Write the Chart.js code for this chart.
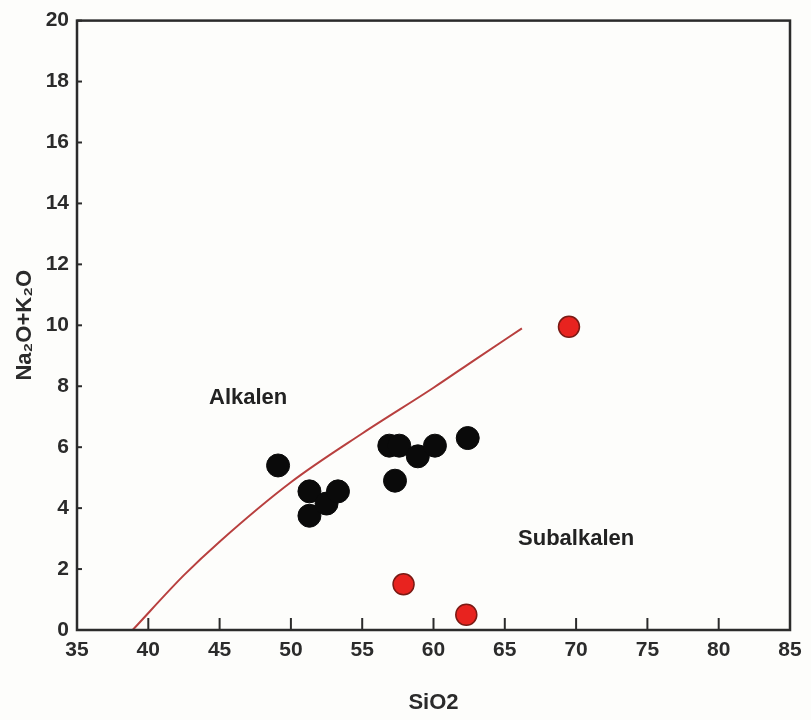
<!DOCTYPE html>
<html lang="en">
<head>
<meta charset="UTF-8">
<title>TAS SiO2 vs Na2O+K2O</title>
<script src="https://cdn.jsdelivr.net/npm/chart.js"></script>
<style>
  html, body { margin: 0; padding: 0; background: #fdfdfb; }
  #wrap { width: 811px; height: 720px; }
</style>
</head>
<body>
<div id="wrap"><canvas id="tasChart" width="811" height="720"></canvas></div>
<script>
// Alkaline / subalkaline dividing line (SiO2, Na2O+K2O)
const boundarySiO2 = [38.9, 42.5, 45.0, 50.0, 55.0, 60.0, 63.0, 66.2];
const boundaryAlk  = [0.0, 1.8, 2.9, 4.85, 6.45, 7.95, 8.9, 9.9];

// black samples
const blackSiO2 = [49.1, 51.3, 51.3, 52.5, 53.3, 56.9, 57.6, 58.9, 60.1, 62.4, 57.3];
const blackAlk  = [5.4, 4.55, 3.75, 4.15, 4.55, 6.05, 6.05, 5.7, 6.05, 6.3, 4.9];

// red samples
const redSiO2 = [57.9, 62.3, 69.5];
const redAlk  = [1.5, 0.5, 9.95];

const xTicks = [35, 40, 45, 50, 55, 60, 65, 70, 75, 80, 85];
const yTicks = [0, 2, 4, 6, 8, 10, 12, 14, 16, 18, 20];

const fieldLabels = [
  { text: 'Alkalen', x: 47.0, y: 7.6 },
  { text: 'Subalkalen', x: 70.0, y: 3.0 }
];

function toPoints(xs, ys) {
  return xs.map((x, i) => ({ x: x, y: ys[i] }));
}

const axisColor = '#2b2b2b';
const fontFam = 'Arial, "Liberation Sans", sans-serif';
const tickFont = { family: fontFam, size: 21, weight: 'bold' };
const titleFont = { family: fontFam, size: 22, weight: 'bold' };

// frame, inward ticks and field names
const framePlugin = {
  id: 'frame',
  afterDraw(chart) {
    const ctx = chart.ctx;
    const a = chart.chartArea;
    const xs = chart.scales.x, ys = chart.scales.y;
    ctx.save();
    ctx.strokeStyle = axisColor;
    ctx.lineWidth = 2.5;
    ctx.strokeRect(a.left, a.top, a.right - a.left, a.bottom - a.top);
    ctx.lineWidth = 2;
    xTicks.forEach(v => {
      const px = xs.getPixelForValue(v);
      ctx.beginPath();
      ctx.moveTo(px, a.bottom);
      ctx.lineTo(px, a.bottom - 12);
      ctx.stroke();
    });
    yTicks.forEach(v => {
      const py = ys.getPixelForValue(v);
      ctx.beginPath();
      ctx.moveTo(a.left, py);
      ctx.lineTo(a.left + 5, py);
      ctx.stroke();
    });
    ctx.fillStyle = '#222';
    ctx.font = 'bold 22px ' + fontFam;
    ctx.textAlign = 'center';
    ctx.textBaseline = 'middle';
    fieldLabels.forEach(l => {
      ctx.fillText(l.text, xs.getPixelForValue(l.x), ys.getPixelForValue(l.y));
    });
    ctx.restore();
  }
};

new Chart(document.getElementById('tasChart'), {
  type: 'scatter',
  data: {
    datasets: [
      {
        label: 'boundary',
        type: 'line',
        data: toPoints(boundarySiO2, boundaryAlk),
        borderColor: '#b8403f',
        borderWidth: 2,
        pointRadius: 0,
        fill: false,
        cubicInterpolationMode: 'monotone',
        order: 3
      },
      {
        label: 'black',
        data: toPoints(blackSiO2, blackAlk),
        backgroundColor: '#0a0a0a',
        borderColor: '#0a0a0a',
        borderWidth: 1,
        pointRadius: 11.5,
        order: 2
      },
      {
        label: 'red',
        data: toPoints(redSiO2, redAlk),
        backgroundColor: '#e8231f',
        borderColor: '#7a1a14',
        borderWidth: 1.5,
        pointRadius: 10.5,
        order: 1
      }
    ]
  },
  options: {
    responsive: false,
    animation: false,
    layout: { padding: { top: 14, right: 21, left: 0, bottom: 0 } },
    plugins: {
      legend: { display: false },
      tooltip: { enabled: false }
    },
    scales: {
      x: {
        type: 'linear',
        min: 35,
        max: 85,
        afterBuildTicks: s => { s.ticks = xTicks.map(v => ({ value: v })); },
        afterFit: s => { s.height = 90; },
        grid: { display: false, drawTicks: false },
        border: { display: false },
        ticks: { color: axisColor, font: tickFont, padding: 8 },
        title: {
          display: true,
          text: 'SiO2',
          color: axisColor,
          font: titleFont,
          padding: { top: 6 }
        }
      },
      y: {
        type: 'linear',
        min: 0,
        max: 20,
        afterBuildTicks: s => { s.ticks = yTicks.map(v => ({ value: v })); },
        afterFit: s => { s.width = 77; },
        grid: { display: false, drawTicks: false },
        border: { display: false },
        ticks: { color: axisColor, font: tickFont, padding: 8 },
        title: {
          display: true,
          text: 'Na\u2082O+K\u2082O',
          color: axisColor,
          font: titleFont,
          padding: { top: 12, bottom: 4 }
        }
      }
    }
  },
  plugins: [framePlugin]
});
</script>
</body>
</html>
